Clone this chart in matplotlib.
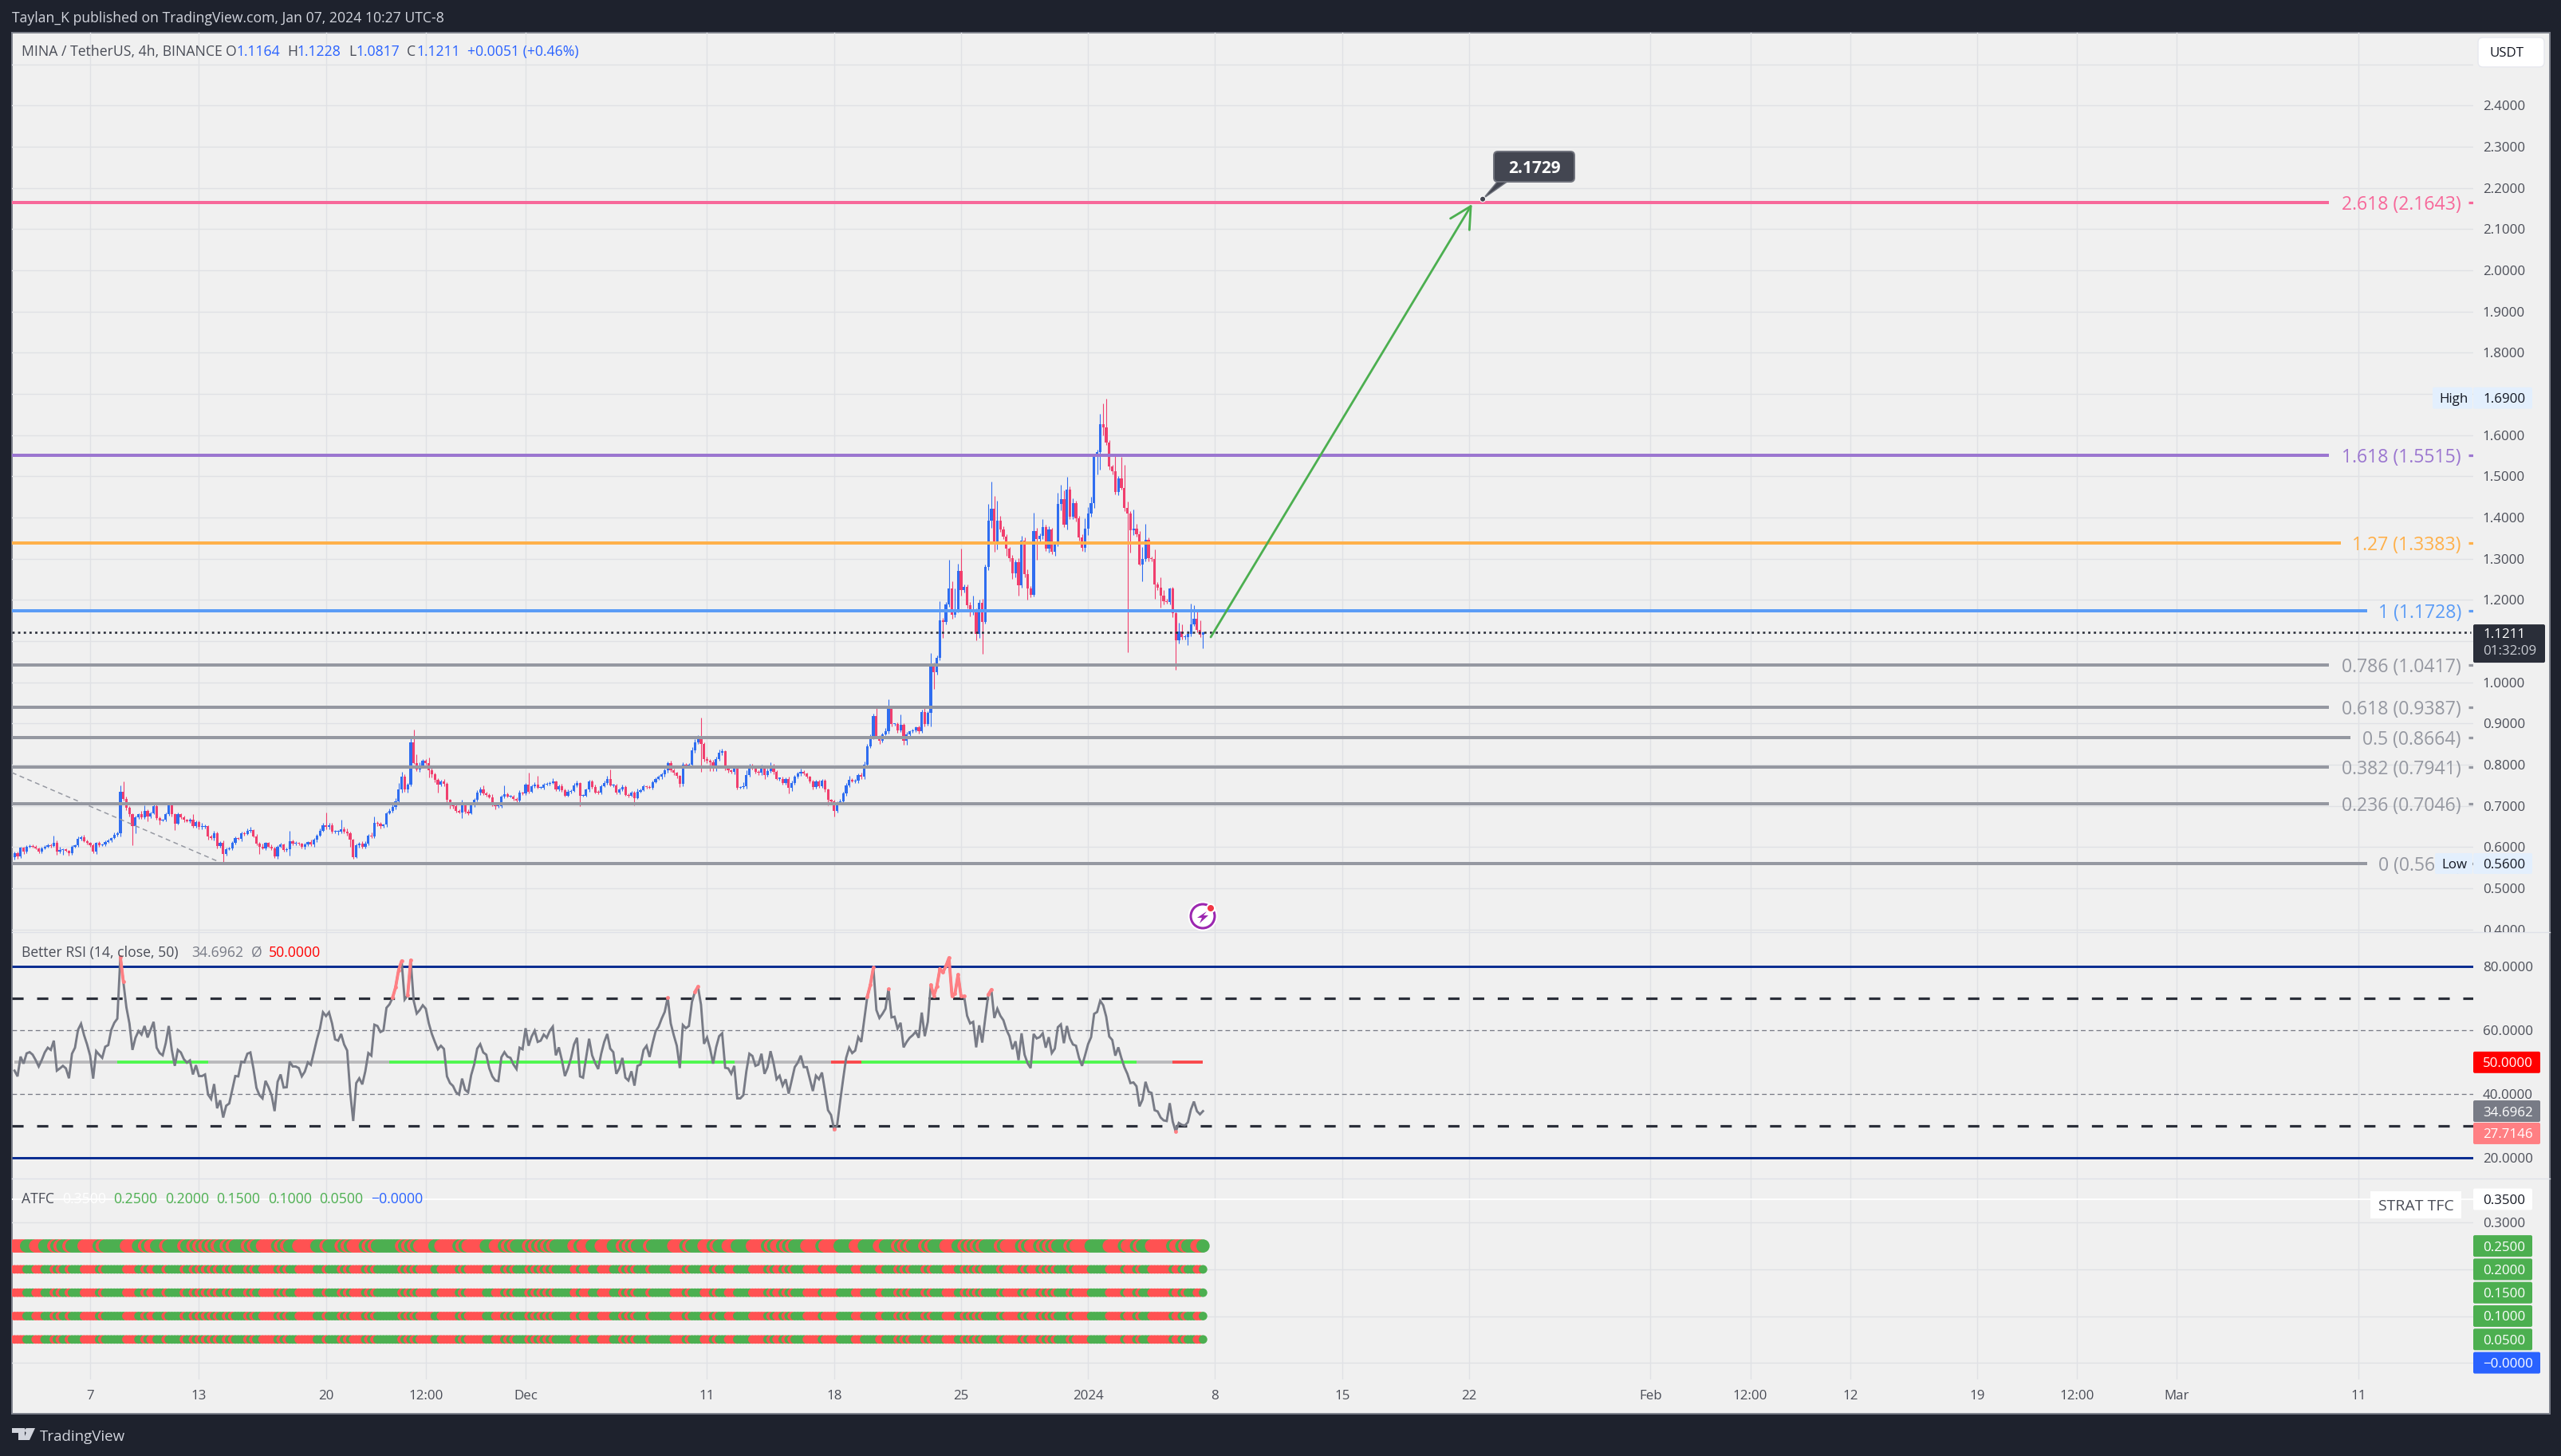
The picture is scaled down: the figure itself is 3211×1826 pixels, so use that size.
import numpy as np
import matplotlib
matplotlib.use("Agg")
import matplotlib.pyplot as plt
from matplotlib.patches import Rectangle, FancyBboxPatch, Circle, Polygon, FancyArrowPatch
from matplotlib.transforms import Bbox

plt.rcParams['font.family'] = ['Open Sans', 'DejaVu Sans']

# ---------- data ----------
first_open = 0.575
closes = [
 .585,.577,.598,.588,.601,.603,.601,.597,.589,.597,
 .601,.604,.603,.611,.589,.593,.594,.590,.585,.601,
 .604,.619,.624,.615,.610,.604,.589,.610,.604,.606,
 .612,.616,.621,.630,.634,.734,.716,.695,.679,.650,
 .672,.679,.672,.687,.674,.682,.699,.671,.665,.666,
 .680,.703,.679,.657,.679,.672,.666,.663,.667,.650,
 .661,.648,.648,.650,.626,.621,.634,.603,.611,.583,
 .595,.597,.610,.621,.620,.634,.632,.640,.641,.626,
 .609,.601,.597,.610,.601,.597,.577,.601,.606,.592,
 .595,.614,.609,.610,.608,.601,.606,.612,.606,.617,
 .628,.640,.653,.648,.653,.638,.638,.638,.643,.638,
 .634,.617,.576,.604,.608,.600,.609,.628,.625,.659,
 .656,.650,.654,.682,.688,.697,.711,.740,.771,.739,
 .752,.854,.804,.788,.798,.810,.804,.787,.777,.763,
 .752,.759,.753,.714,.701,.699,.688,.684,.703,.686,
 .682,.701,.714,.733,.740,.730,.727,.721,.703,.699,
 .699,.723,.729,.723,.723,.717,.712,.732,.730,.752,
 .735,.748,.752,.744,.744,.752,.753,.756,.759,.740,
 .748,.738,.725,.735,.737,.750,.755,.725,.725,.739,
 .759,.745,.733,.732,.748,.756,.766,.750,.750,.733,
 .739,.746,.727,.725,.733,.719,.735,
 .738,.748,.746,.744,.758,.766,.770,.776,.786,.804,
 .786,.780,.772,.754,.800,.796,.800,.834,.854,.866,
 .850,.813,.810,.806,.790,.814,.828,.832,.790,.786,
 .782,.792,.744,.746,.747,.775,.796,.792,.782,.780,
 .794,.774,.784,.796,.782,.766,.766,.756,.766,.743,
 .756,.770,.778,.782,.778,.770,.760,.746,.760,.747,
 .762,.739,.714,.711,.688,.706,.710,.730,.750,.764,
 .760,.762,.775,.770,.800,.845,.866,.918,.869,.858,
 .874,.882,.936,.898,.898,.884,.897,.858,.874,.881,
 .884,.890,.881,.928,.898,.926,1.039,1.024,1.059,1.151,
 1.147,1.189,1.227,1.163,1.175,1.270,1.223,1.231,1.187,1.170,
 1.175,1.117,1.193,1.146,1.280,1.392,1.422,1.339,1.392,1.370,
 1.354,1.324,1.301,1.264,1.292,1.235,1.344,1.262,1.227,1.213,
 1.368,1.348,1.356,1.376,1.324,1.370,1.316,1.334,1.432,1.444,
 1.382,1.468,1.402,1.434,1.398,1.352,1.326,1.372,1.410,1.434,
 1.547,1.559,1.626,1.618,1.581,1.523,1.512,1.462,1.494,1.472,
 1.424,1.410,1.369,1.372,1.360,1.285,1.300,1.346,1.301,1.300,
 1.238,1.230,1.211,1.197,1.194,1.227,1.167,1.101,1.123,1.109,
 1.109,1.117,1.141,1.154,1.127,1.115,1.1211]

upper_wick_milli = [
 4,3,2,3,4,4,3,3,2,4, 3,4,5,17,5,8,2,3,3,4, 3,6,4,6,3,3,5,3,4,3, 4,3,3,6,4,15,25,7,5,3,
 4,3,8,14,4,3,5,4,3,3, 3,3,3,3,4,3,4,3,3,13, 3,4,10,5,3,4,5,4,3,5, 3,3,4,5,3,3,4,5,8,3,
 5,4,8,3,3,5,3,4,5,3, 3,25,3,4,3,3,4,3,5,4, 4,5,6,31,5,6,4,4,23,5, 8,4,3,4,5,6,5,4,8,16,
 3,4,3,4,5,6,8,16,12,5, 4,15,31,22,8,3,4,13,8,4, 4,5,6,4,3,8,5,4,11,4, 5,6,4,5,6,10,5,4,8,4,
 3,4,20,3,4,3,3,6,3,4, 29,4,5,20,3,4,5,4,8,3, 4,5,3,4,3,5,6,3,4,3, 5,4,6,5,4,5,6,23,4,3,
 5,6,4,3,4,3,6,
 4,3,2,3,4,3,4,5,5,4, 5,4,3,2,6,3,4,9,8,5, 48,5,6,4,5,6,8,7,3,4, 3,5,3,2,10,12,6,5,4,4,
 5,3,6,10,5,4,3,4,3,4, 6,4,5,8,4,3,3,4,3,3, 3,4,3,3,4,4,6,4,5,8, 3,4,3,5,8,5,8,5,24,3,
 3,6,22,3,3,4,24,3,5,3, 3,3,4,5,15,4,32,8,6,46, 5,6,70,19,52,18,55,6,6,8, 35,4,8,10,6,40,66,30,48,12,
 8,6,5,8,6,10,11,8,13,6, 44,6,5,20,6,8,4,5,28,36, 22,30,8,12,6,6,8,26,15,16, 8,6,26,50,71,6,5,40,6,53,
 56,14,6,48,12,8,28,38,6,5, 22,6,24,12,5,3,5,8,22,18, 6,9,49,33,17,24,2]

lower_wick_milli = [
 5,6,3,4,3,2,3,2,4,3, 2,3,4,3,7,4,11,2,5,4, 3,4,3,3,3,4,4,5,3,2, 3,2,3,2,5,8,4,6,4,46,
 17,4,4,3,12,4,3,4,10,3, 4,3,5,15,3,4,5,3,4,3, 3,4,5,3,8,3,5,6,5,22, 3,3,4,3,3,5,4,3,5,3,
 5,18,3,4,3,4,4,6,3,4, 4,16,5,4,3,4,6,3,4,5, 4,3,3,4,5,4,4,8,4,5, 6,16,4,3,5,4,3,5,3,4,
 5,4,3,5,3,4,5,6,8,5, 6,4,3,4,5,3,4,19,8,5, 19,4,5,6,8,5,4,3,13,5, 4,3,3,4,6,4,5,3,3,8,
 3,4,5,3,3,4,3,3,3,4, 5,3,4,3,3,4,3,4,3,4, 3,4,3,3,4,3,4,26,3,3, 5,4,3,4,3,3,4,3,4,5,
 4,3,3,4,3,18,3,
 3,2,4,3,4,3,3,5,6,5, 4,6,5,8,6,3,4,5,6,4, 68,5,6,22,5,6,4,5,4,5, 3,5,4,3,4,6,5,4,3,6,
 5,8,4,3,5,3,4,5,4,12, 6,4,3,5,4,3,5,6,4,3, 4,5,12,5,14,4,3,4,5,4, 3,5,6,5,4,6,5,4,5,8,
 4,3,6,5,3,6,4,10,9,5, 4,5,5,4,6,3,34,40,5,6, 40,6,5,8,5,6,12,5,8,10, 6,16,9,77,3,8,18,23,17,4,
 6,16,8,14,10,25,5,8,26,6, 5,50,10,8,5,9,5,8,4,14, 6,11,5,6,8,8,8,9,14,8, 10,42,42,19,5,6,8,6,8,5,
 8,337,54,12,6,2,39,7,8,6, 36,6,30,8,4,5,8,71,7,6, 5,18,6,5,6,5,33]

rsi = [
 47.4,45.6,51.8,49.6,52.8,53.2,52.4,50.7,48.7,50.7,
 53.1,54.6,53.9,56.8,47.4,48.1,48.9,48.1,45.0,52.7,
 54.6,60.2,62.1,58.5,55.6,52.1,44.9,53.5,52.4,51.4,
 54.9,55.4,60.2,62.4,63.7,83.1,75.2,67.2,62.2,53.9,
 57.7,59.8,58.7,61.4,57.8,60.2,62.7,54.6,52.9,52.2,
 56.0,61.4,53.9,48.9,53.9,53.1,51.0,49.9,50.6,46.2,
 49.1,45.7,45.7,46.2,39.9,38.5,43.2,35.6,38.1,32.7,
 36.4,37.1,41.4,45.7,45.6,50.2,50.0,52.7,53.1,48.1,
 42.0,39.7,38.7,44.2,42.2,39.7,34.7,43.9,46.2,42.1,
 42.2,50.2,48.7,48.7,48.2,45.6,47.1,50.0,49.2,53.2,
 57.2,60.6,65.7,64.5,65.7,62.2,57.2,56.8,58.9,55.6,
 53.7,40.6,31.6,43.5,45.0,43.1,47.2,52.9,52.1,61.8,
 61.4,59.5,60.0,67.1,68.2,70.2,73.5,78.9,81.8,69.7,
 71.0,82.0,69.3,65.3,66.4,67.9,66.8,62.2,58.9,56.4,
 54.1,55.2,54.2,45.6,43.5,42.6,40.6,39.9,44.9,41.4,
 40.6,46.0,49.3,54.3,55.7,53.1,52.4,48.1,45.6,44.3,
 44.1,51.6,53.2,51.8,51.4,49.3,47.9,54.6,54.1,60.7,
 55.2,58.1,59.9,56.4,56.8,58.7,57.7,59.9,61.2,52.2,
 54.7,50.7,45.7,48.1,51.3,55.6,57.7,45.6,45.2,51.4,
 57.4,52.2,49.8,47.9,52.7,56.4,58.9,54.3,53.2,46.4,
 48.1,51.4,45.2,44.3,47.2,42.7,48.9,
 49.3,53.9,55.2,51.7,56.0,59.7,61.2,63.7,65.8,70.3,
 62.2,58.5,55.2,48.2,61.7,60.7,61.4,68.9,72.1,73.7,
 68.1,55.8,57.8,54.3,49.6,54.7,58.2,59.1,48.3,48.1,
 46.4,48.9,38.7,38.7,39.7,47.2,52.7,52.0,48.9,49.3,
 52.7,46.4,48.5,53.5,49.7,44.7,45.8,42.7,44.7,40.2,
 44.3,48.5,49.9,52.1,48.5,48.5,44.7,41.0,45.8,44.7,
 46.8,41.0,35.0,33.5,29.1,30.2,37.7,44.7,51.4,54.6,
 52.9,53.7,57.9,56.4,63.5,70.6,74.3,79.7,66.4,63.9,
 65.2,66.8,73.1,64.1,64.3,60.6,62.4,54.7,56.4,57.7,
 58.5,59.6,57.7,65.6,58.2,62.7,74.3,70.8,73.9,79.3,
 78.2,80.2,82.8,70.9,71.6,77.5,70.7,70.7,64.6,62.2,
 62.7,54.7,61.6,56.2,63.9,71.2,72.8,63.9,66.8,64.6,
 63.2,60.2,58.2,54.1,56.6,50.7,59.1,52.4,49.7,48.2,
 58.9,57.5,57.9,59.1,54.6,57.9,52.9,54.3,61.0,61.9,
 56.0,61.4,57.5,55.6,55.2,51.4,48.9,52.2,55.7,57.9,
 65.2,65.8,69.3,67.9,64.3,58.1,57.0,52.1,54.7,51.4,
 48.5,46.4,43.5,43.7,42.5,36.2,38.3,43.9,40.8,40.4,
 35.0,34.6,32.7,31.8,31.6,37.2,31.4,28.2,31.0,30.4,
 30.2,31.2,35.2,37.7,34.7,33.7,34.7]

# colour runs of the midline, as (first bar, last bar, state)
mid_segments = [(0,34,'n'),(34,64,'g'),(64,124,'n'),(124,238,'g'),(238,270,'n'),
                (270,280,'r'),(280,371,'g'),(371,383,'n'),(383,393,'r')]

atfc_runs_left = ("r4 g3 r3 g3 r1 g1 r1 g2 r1 g4 r5 g1 r1 g7 r4 g2 r1 g1 r2 g3 r1 g1 g4 r1 g2 r1 g1 r1 g1 r1 "
                  "g1 r1 g1 r1 g2 r1 g1 r1 g4 r1 g1 r1 g2 r5 g1 r1 g1 r1 g3 r6 g3 r1 g4 r1 g1 r1 g1 r4 g1 r1 "
                  "g1 r1 g8 r1 g1 r1 g1 r1 g1 r5 g2 r6 g1 r1 g1 r6 g3 r3 g1 r1 g1 r1 g4 r1 g1 r1 g1 r1 g1 r1 "
                  "g1 r1 g6 r2 g1 r3 g3 r4 g3 r1 g1 r1 g1 r1 g1")
atfc_runs_right = ("g3 r1 g7 r4 g1 r1 g4 r3 g1 r1 g3 r3 g1 g4 r5 g1 r1 g1 r2 g1 r1 g1 r1 g4 r5 g1 r5 g5 r3 g5 "
                   "r2 g4 r1 g1 r1 g1 r1 g4 r1 g1 r1 g4 r4 g2 r1 g1 r1 g1 r1 g1 r1 g5 r1 g1 r5 g1 r1 g1 r3 g1 "
                   "r1 g1 r1 g1 r1 g4 r1 g1 r5 g6 r5 g1 r3 g1 r1 g3 r7 g1 r2 g1 r1 g3 r2 g1")
atfc_levels = [0.25, 0.20, 0.15, 0.10, 0.05]

fib_levels = ['2.618', '1.618', '1.27', '1', '0.786', '0.618', '0.5', '0.382', '0.236', '0']
fib_prices = [2.1643, 1.5515, 1.3383, 1.1728, 1.0417, 0.9387, 0.8664, 0.7941, 0.7046, 0.5600]
fib_colors = ['#f7689a', '#9b76d0', '#ffb04a', '#5b9cf6', '#9598a1', '#9598a1', '#9598a1', '#9598a1', '#9598a1', '#9598a1']
fib_line_end_px = [2920, 2920, 2935, 2968, 2920, 2920, 2947, 2920, 2920, 2968]

price_ticks = [round(0.4 + 0.1 * k, 1) for k in range(22)]
rsi_ticks = [20, 40, 60, 80]
atfc_grid = [0.0, 0.1, 0.2, 0.3]
time_days = [0, 6, 13, 18.5, 24, 34, 41, 48, 55, 62, 69, 76, 86, 91.5, 97, 104, 109.5, 115, 125]
time_labels = ['7', '13', '20', '12:00', 'Dec', '11', '18', '25', '2024', '8', '15', '22', 'Feb', '12:00', '12', '19', '12:00', 'Mar', '11']

last_price = 1.1211
high_price, low_price = 1.6900, 0.5600
rsi_last, rsi_ma, rsi_low_mark = 34.6962, 50.0, 27.7146
target_price = 2.1729

# ---------- layout ----------
W, H = 3212, 1826
DARK, PANEL = '#1e222d', '#f0f0f0'
UP, DOWN = '#2f6df0', '#f03f6e'
GRID, TXT = '#e0e1e5', '#4a4d57'
GREEN, RED = '#4caf50', '#ff5252'
X0, X1, XR = 15, 3101, 3197
PY0, PY1, RY1, AY1, BOT = 41, 1169.4, 1478.5, 1730, 1773
PX = 0.72  # points per pixel at dpi 100

fig = plt.figure(figsize=(W / 100, H / 100), dpi=100, facecolor=DARK)

def pane(y0, y1, z=2):
    a = fig.add_axes([X0 / W, 1 - y1 / H, (X1 - X0) / W, (y1 - y0) / H], facecolor='none', zorder=z)
    for s in a.spines.values():
        s.set_visible(False)
    return a

bg = fig.add_axes([0, 0, 1, 1], zorder=0)
bg.set_xlim(0, W); bg.set_ylim(H, 0); bg.axis('off')
fg = fig.add_axes([0, 0, 1, 1], zorder=10, facecolor='none')
fg.set_xlim(0, W); fg.set_ylim(H, 0); fg.axis('off')
bg.add_patch(Rectangle((X0, PY0), XR - X0, BOT - PY0, fc=PANEL, ec='#7d818c', lw=1.4))

ax = pane(PY0, PY1)
ax_r = pane(PY1, RY1)
ax_a = pane(RY1, AY1)

def day_of_px(px):
    return (px - 113) / 22.75

xlim = (day_of_px(X0), day_of_px(X1))
for a in (ax, ax_r, ax_a):
    a.set_xlim(*xlim)
    a.set_xticks(time_days)
    a.grid(True, axis='x', color=GRID, lw=1.4 * PX)
    a.set_axisbelow(True)
    a.yaxis.tick_right()
    a.tick_params(axis='both', length=0, labelsize=12.2, labelcolor=TXT, pad=8.5)
    a.tick_params(axis='x', labelbottom=False)

ax.set_ylim(2.4 - (PY1 - 132.4) / 516.6, 2.4 + (132.4 - PY0) / 516.6)
ax_r.set_ylim(80 - (RY1 - 1212.3) / 4.0, 80 + (1212.3 - PY1) / 4.0)
ax_a.set_ylim(0.35 - (AY1 - 1504) / 586.0, 0.35 + (1504 - RY1) / 586.0)

ax.set_yticks(price_ticks)
ax.set_yticklabels(['' if t in (1.7, 2.5) else f'{t:.4f}' for t in price_ticks])
ax.grid(True, axis='y', color=GRID, lw=1.4 * PX)
ax_r.set_yticks(rsi_ticks)
ax_r.set_yticklabels([f'{t:.4f}' for t in rsi_ticks])
ax_a.set_yticks(atfc_grid)
ax_a.set_yticklabels(['', '', '', '0.3000'])
ax_a.grid(True, axis='y', color=GRID, lw=1.4 * PX)
ax_a.set_xticklabels(time_labels)
ax_a.tick_params(axis='x', labelbottom=True, pad=9.5)

# pane separators
for yy in (PY1, RY1):
    bg.plot([X0, XR], [yy, yy], color='#dfe1e8', lw=1.4 * PX)

# candles
c = np.array(closes)
o = np.concatenate([[first_open], c[:-1]])
hi = np.maximum(o, c) + np.array(upper_wick_milli) / 1000
lo = np.minimum(o, c) - np.array(lower_wick_milli) / 1000
N = len(c)
days = 61.333 - (N - 1 - np.arange(N)) / 6
cols = [UP if a >= b else DOWN for a, b in zip(c, o)]
ax.vlines(days, lo, hi, colors=cols, lw=1.1 * PX, zorder=3)
ax.bar(days, np.maximum(np.abs(c - o), 0.002), bottom=np.minimum(o, c), width=3.2 / 22.75,
       color=cols, linewidth=0, zorder=3.5)

# fib tool
ax.plot([day_of_px(15), day_of_px(273)], [0.7806, 0.5654], color='#9598a1', lw=1.5 * PX,
        dashes=(4, 3), zorder=4)
ax.hlines(fib_prices, day_of_px(X0), [day_of_px(p) for p in fib_line_end_px], colors=fib_colors,
          lw=4.0 * PX, zorder=4)
ax.hlines(fib_prices, day_of_px(3095), day_of_px(X1), colors=fib_colors, lw=3.2 * PX, zorder=4)
for lvl, p, col in zip(fib_levels, fib_prices, fib_colors):
    ax.text(day_of_px(3086), p, f'{lvl} ({p:.4f})', color=col, fontsize=16.6, ha='right',
            va='center_baseline', zorder=5)

# last price
ax.plot([xlim[0], xlim[1] - 0.15], [last_price, last_price], color='#2a2e39', lw=2.6 * PX,
        dashes=(1.1, 1.65), zorder=4.5)

# projection arrow
ax.add_patch(FancyArrowPatch((61.76, 1.1096), (76.16, 2.1607),
                             arrowstyle='->,head_length=0.95,head_width=0.5', color=GREEN, lw=2.8 * PX,
                             mutation_scale=20, shrinkA=0, shrinkB=0, zorder=6))

# RSI pane
rs = np.array(rsi)
ax_r.hlines([80, 20], *xlim, colors='#0c2f92', lw=3 * PX, zorder=2)
ax_r.hlines([60, 40], *xlim, colors='#787b86', lw=1.3 * PX, linestyles=(0, (4.5, 3)), zorder=2)
ax_r.hlines([70, 30], *xlim, colors='#2a2e39', lw=3.2 * PX, linestyles=(0, (4.4, 5.3)), zorder=2)
mid_col = {'n': '#b9b9bb', 'g': '#4df74d', 'r': '#f9474a'}
for a_, b_, st in mid_segments:
    ax_r.plot([days[a_], days[b_]], [rsi_ma, rsi_ma], color=mid_col[st], lw=3.8 * PX, zorder=3,
              solid_capstyle='butt')
ax_r.plot(days, rs, color='#787b86', lw=2.9 * PX, zorder=4, solid_joinstyle='miter')
hot = np.where((rs >= 70) | (rs <= 30), rs, np.nan)
ax_r.plot(days, hot, color='#ff7f83', lw=3.8 * PX, marker='o', ms=4.8 * PX, mew=0, zorder=5,
          solid_capstyle='round')

# ATFC pane
def expand(runs, n):
    s = ''
    for tok in runs.split():
        s += tok[0] * int(tok[1:])
    s = (s + s[-1] * n)[:n]
    return s

atfc_state = expand(atfc_runs_left, 207) + expand(atfc_runs_right, N - 207)
atfc_cols = [GREEN if ch == 'g' else RED for ch in atfc_state]
ax_a.hlines([0.35], *xlim, colors='white', lw=1.8 * PX, zorder=2)
for lev in atfc_levels:
    d = 16.7 if lev == 0.25 else 10.8
    ax_a.scatter(days, [lev] * N, s=(d * PX) ** 2, c=atfc_cols, linewidths=0, zorder=3)

fig.canvas.draw()

def ypx(a, v):
    return H - a.transData.transform((0, v))[1]

# clip the half-hidden bottom price label at the pane edge
for tick, t_ in zip(ax.yaxis.get_major_ticks(), price_ticks):
    if t_ == 0.4:
        tick.label2.set_clip_box(Bbox([[0, H - PY1], [W, H]]))
        tick.label2.set_clip_on(True)

def box(x0, x1, yc, h, fc, txt, tc='white', tx=3113, fs=12.2, ec='none', rs_=2):
    fg.add_patch(FancyBboxPatch((x0, yc - h / 2), x1 - x0, h, boxstyle=f'round,pad=0,rounding_size={rs_}',
                                fc=fc, ec=ec, lw=1, zorder=5))
    fg.text(tx, yc, txt, color=tc, fontsize=fs, ha='left', va='center_baseline', zorder=6)

# chrome text
bg.text(15, 21, 'Taylan_K published on TradingView.com, Jan 07, 2024 10:27 UTC-8', color='#d1d4dc',
        fontsize=12.7, va='center_baseline')
leg_dark, leg_blue = '#4a4d57', '#2962ff'
def t(x, y, s, col=leg_dark, fs=12.7, layer=None, **kw):
    (layer or fg).text(x, y, s, color=col, fontsize=fs, va='center_baseline', zorder=6, **kw)

y = 63
t(27, y, 'MINA / TetherUS, 4h, BINANCE')
for x_, s_, col in [(283, 'O', leg_dark), (296, '1.1164', leg_blue), (360, 'H', leg_dark), (372, '1.1228', leg_blue),
                    (437, 'L', leg_dark), (446, '1.0817', leg_blue), (510, 'C', leg_dark), (522, '1.1211', leg_blue),
                    (586, '+0.0051 (+0.46%)', leg_blue)]:
    t(x_, y, s_, col)
y = 1192.7
t(27, y, 'Better RSI (14, close, 50)')
t(240, y, '34.6962', '#787b86')
t(315, y, 'Ø', '#787b86')
t(337, y, '50.0000', '#ff0000')
y = 1502
t(27, y, 'ATFC')
t(78, y, '0.3500', 'white')
for x_, s_ in [(142, '0.2500'), (207, '0.2000'), (271, '0.1500'), (336, '0.1000'), (400, '0.0500')]:
    t(x_, y, s_, GREEN)
t(465, y, '\u22120.0000', leg_blue)

# scale boxes
fg.add_patch(FancyBboxPatch((3107, 47), 83, 37, boxstyle='round,pad=0,rounding_size=6', fc='white', ec='#e6e8ee', lw=1))
t(3122, 65, 'USDT', '#131722', 12.2)

y_h = ypx(ax, high_price)
box(3050, 3100, y_h, 27, '#e3effd', 'High', '#131722', tx=3058)
box(3101, 3175, y_h, 27, '#e3effd', f'{high_price:.4f}', '#131722')
y_l = ypx(ax, low_price)
box(3053, 3100, y_l, 26, '#e3effd', 'Low', '#131722', tx=3061)
box(3101, 3175, y_l, 26, '#e3effd', f'{low_price:.4f}', '#131722')

y_c = ypx(ax, last_price)
fg.add_patch(FancyBboxPatch((3101, y_c - 10), 90, 48, boxstyle='round,pad=0,rounding_size=2', fc='#2a2e39', ec='none'))
t(3113, y_c + 1, f'{last_price:.4f}', 'white', 12.2)
t(3113, y_c + 22, '01:32:09', '#c9ccd3', 12.2)

box(3101, 3185, ypx(ax_r, rsi_ma), 27, '#ff0000', f'{rsi_ma:.4f}')
box(3101, 3185, ypx(ax_r, rsi_last), 27, '#787b86', f'{rsi_last:.4f}')
box(3101, 3185, ypx(ax_r, rsi_low_mark), 27, '#ff7f83', f'{rsi_low_mark:.4f}')

box(3101, 3175, ypx(ax_a, 0.35), 27, 'white', '0.3500', '#131722')
for lev in atfc_levels:
    box(3101, 3175, ypx(ax_a, lev), 27, GREEN, f'{lev:.4f}')
box(3101, 3185, ypx(ax_a, 0.0), 27, leg_blue, '\u22120.0000')

fg.add_patch(Rectangle((2972, 1494), 114, 34.5, fc='white', ec='none'))
fg.text(3029, 1511.5, 'STRAT TFC', color=TXT, fontsize=14, ha='center', va='center_baseline')

# target callout
xt, yt = ax.transData.transform((76.75, target_price))
xt_, yt_ = xt, H - yt
fg.add_patch(Polygon([(xt_ + 1, yt_ - 1), (1878, 227), (1891, 227)], closed=True, fc='#434651', ec='#6f727c', lw=1))
fg.add_patch(FancyBboxPatch((1873, 190), 101, 38, boxstyle='round,pad=0,rounding_size=5', fc='#434651', ec='#6f727c', lw=1.4))
fg.add_patch(Circle((xt_, yt_), 3.6, fc='#434651', ec='white', lw=0.8))
fg.text(1923.5, 209, f'{target_price:.4f}', color='white', fontsize=15, fontweight='bold', ha='center', va='center_baseline')

# alert icon
fg.add_patch(Circle((1508, 1149), 18.5, fc='white', ec='none'))
fg.add_patch(Circle((1508, 1149), 15, fc='none', ec='#9c27b0', lw=2.2))
fg.add_patch(Polygon([(1513, 1143), (1501, 1151), (1507, 1151), (1504, 1158), (1515, 1148), (1509, 1148)],
                     closed=True, fc='#9c27b0', ec='none'))
fg.add_patch(Circle((1518, 1139), 6, fc='white', ec='none'))
fg.add_patch(Circle((1518, 1139), 4, fc='#f23645', ec='none'))

# footer logo
logo = '#d1d4dc'
bg.add_patch(Polygon([(15, 1791), (31, 1791), (31, 1806), (23, 1806), (23, 1797), (15, 1797)], closed=True, fc=logo, ec='none'))
bg.add_patch(Circle((34, 1794), 3, fc=logo, ec='none'))
bg.add_patch(Polygon([(37, 1806), (29, 1806), (35, 1791), (44, 1791)], closed=True, fc=logo, ec='none'))
bg.text(50, 1800, 'TradingView', color=logo, fontsize=13.5, va='center_baseline')

fig.savefig('out.png', dpi=100, facecolor=DARK)
